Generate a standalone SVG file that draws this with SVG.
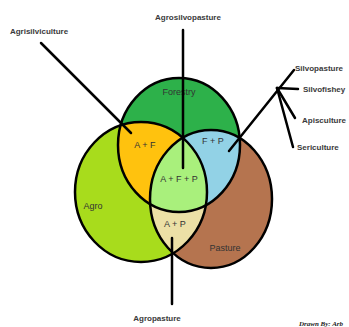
<svg xmlns="http://www.w3.org/2000/svg" width="349" height="327" viewBox="0 0 349 327">
<defs>
<style>
.lbl{font-family:"Liberation Sans",Arial,sans-serif;font-size:8px;font-weight:bold;fill:#3a3a3a}
.in{font-family:"Liberation Sans",Arial,sans-serif;font-size:9px;fill:#333}
.ring{fill:none;stroke:#000;stroke-width:2.5}
.con{stroke:#000;stroke-width:2.5;stroke-linecap:round;fill:none}
</style>
<clipPath id="cF"><ellipse cx="179" cy="145" rx="61" ry="67"/></clipPath>
<clipPath id="cA"><ellipse cx="141" cy="192" rx="66" ry="70"/></clipPath>
<clipPath id="cP"><ellipse cx="211" cy="199" rx="61" ry="69"/></clipPath>
</defs>
<rect width="349" height="327" fill="#fff"/>
<g id="forestry">
<ellipse cx="179" cy="145" rx="61" ry="67" fill="#2db14a"/>
<text class="in" x="179" y="95" text-anchor="middle">Forestry</text>
</g>
<g id="agro">
<ellipse cx="141" cy="192" rx="66" ry="70" fill="#a8dc1c"/>
<text class="in" x="93" y="209" text-anchor="middle">Agro</text>
</g>
<g id="pasture">
<ellipse cx="211" cy="199" rx="61" ry="69" fill="#b5744f"/>
<text class="in" x="225" y="251" text-anchor="middle">Pasture</text>
</g>
<g id="a-f">
<ellipse cx="141" cy="192" rx="66" ry="70" fill="#ffc20e" clip-path="url(#cF)"/>
</g>
<g id="f-p">
<ellipse cx="211" cy="199" rx="61" ry="69" fill="#92d2e6" clip-path="url(#cF)"/>
</g>
<g id="a-p">
<ellipse cx="141" cy="192" rx="66" ry="70" fill="#ece0a6" clip-path="url(#cP)"/>
</g>
<g id="a-f-p">
<g clip-path="url(#cP)">
<ellipse cx="141" cy="192" rx="66" ry="70" fill="#a9f07c" clip-path="url(#cF)"/>
</g>
</g>
<g id="outlines">
<ellipse class="ring" cx="179" cy="145" rx="61" ry="67"/>
<ellipse class="ring" cx="141" cy="192" rx="66" ry="70"/>
<ellipse class="ring" cx="211" cy="199" rx="61" ry="69"/>
</g>
<g id="region-labels">
<text class="in" x="145" y="148" text-anchor="middle">A + F</text>
<text class="in" x="213" y="144" text-anchor="middle">F + P</text>
<text class="in" x="179" y="182" text-anchor="middle">A + F + P</text>
<text class="in" x="175" y="227" text-anchor="middle">A + P</text>
</g>
<g id="connectors">
<line class="con" x1="41" y1="43" x2="131" y2="133"/>
<line class="con" x1="183" y1="30" x2="183" y2="168"/>
<line class="con" x1="172" y1="238" x2="172" y2="304"/>
<line class="con" x1="229" y1="151" x2="294" y2="70"/>
<line class="con" x1="277" y1="88" x2="298" y2="89"/>
<line class="con" x1="277" y1="88" x2="295" y2="118"/>
<line class="con" x1="277" y1="88" x2="293" y2="147"/>
</g>
<g id="outer-labels">
<text class="lbl" x="39" y="34" text-anchor="middle">Agrisilviculture</text>
<text class="lbl" x="188" y="20" text-anchor="middle">Agrosilvopasture</text>
<text class="lbl" x="157" y="321" text-anchor="middle">Agropasture</text>
<text class="lbl" x="295" y="71">Silvopasture</text>
<text class="lbl" x="303" y="92">Silvofishey</text>
<text class="lbl" x="302" y="123">Apisculture</text>
<text class="lbl" x="297" y="150">Sericulture</text>
<text x="299" y="326" font-family="'Liberation Serif',serif" font-style="italic" font-weight="bold" font-size="7" fill="#222">Drawn By: Arb</text>
</g>
</svg>
